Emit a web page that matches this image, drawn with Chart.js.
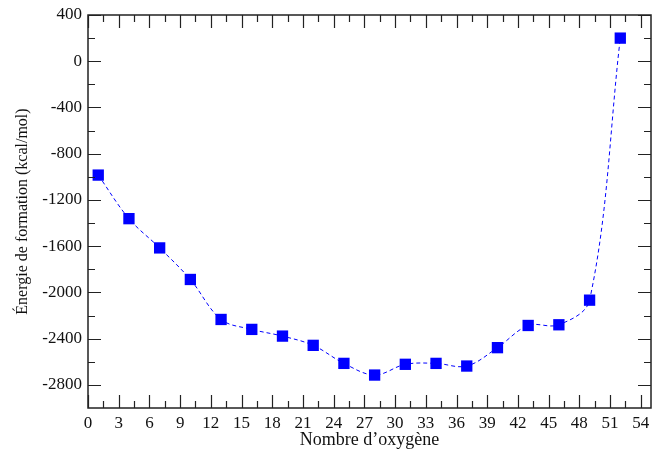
<!DOCTYPE html>
<html>
<head>
<meta charset="utf-8">
<script src="https://cdn.jsdelivr.net/npm/chart.js@4"></script>
<style>
  html, body { margin: 0; padding: 0; background: #fff; }
  #wrap { width: 654px; height: 455px; }
</style>
</head>
<body>
<div id="wrap"><canvas id="energyChart" width="654" height="455"></canvas></div>
<script>
const oxygenCount = [1, 4, 7, 10, 13, 16, 19, 22, 25, 28, 31, 34, 37, 40, 43, 46, 49, 52];
const formationEnergy = [-985, -1362, -1615, -1888, -2234, -2320, -2378, -2458, -2614, -2715, -2622, -2614, -2637, -2478, -2286, -2280, -2067, 200];
const xTickLabels = [0, 3, 6, 9, 12, 15, 18, 21, 24, 27, 30, 33, 36, 39, 42, 45, 48, 51, 54];
const yTickLabels = [-2800, -2400, -2000, -1600, -1200, -800, -400, 0, 400];

const FONT = "'Liberation Serif', 'DejaVu Serif', serif";

// frame + inward ticks on all four sides
const framePlugin = {
    id: 'frame',
    afterDraw(chart) {
        const ctx = chart.ctx;
        const a = chart.chartArea;
        const xs = chart.scales.x, ys = chart.scales.y;
        ctx.save();
        ctx.strokeStyle = '#222';
        ctx.lineWidth = 1.5;
        ctx.strokeRect(a.left, a.top, a.right - a.left, a.bottom - a.top);
        ctx.lineWidth = 1.2;
        ctx.beginPath();
        for (let v = 0; v <= 54; v += 1.5) {
            const len = (v % 3 === 0) ? 13 : 7;
            const px = Math.round(xs.getPixelForValue(v)) + 0.5;
            ctx.moveTo(px, a.bottom); ctx.lineTo(px, a.bottom - len);
            ctx.moveTo(px, a.top); ctx.lineTo(px, a.top + len);
        }
        for (let v = -2800; v <= 400; v += 200) {
            const len = (v % 400 === 0) ? 13 : 7;
            const py = Math.round(ys.getPixelForValue(v)) + 0.5;
            ctx.moveTo(a.left, py); ctx.lineTo(a.left + len, py);
            ctx.moveTo(a.right, py); ctx.lineTo(a.right - len, py);
        }
        ctx.stroke();
        ctx.restore();
    }
};

const ctx = document.getElementById('energyChart').getContext('2d');
new Chart(ctx, {
    type: 'line',
    data: {
        datasets: [{
            data: oxygenCount.map((x, i) => ({ x: x, y: formationEnergy[i] })),
            borderColor: '#0000ff',
            borderWidth: 1,
            borderDash: [4, 3],
            tension: 0.35,
            pointStyle: 'rect',
            pointRadius: 8,
            pointBorderWidth: 0,
            pointBackgroundColor: '#0000ff'
        }]
    },
    options: {
        responsive: false,
        animation: false,
        layout: { autoPadding: false, padding: { top: 15, right: 3, left: 0, bottom: 0 } },
        plugins: { legend: { display: false }, tooltip: { enabled: false } },
        scales: {
            x: {
                type: 'linear',
                min: 0,
                max: 55,
                grid: { display: false, drawTicks: false },
                border: { display: false },
                afterBuildTicks: s => { s.ticks = xTickLabels.map(v => ({ value: v })); },
                afterFit: s => { s.height = 47; s.paddingRight = 0; s.paddingLeft = 0; },
                ticks: { color: '#111', padding: 5, maxRotation: 0, callback: v => String(v), font: { family: FONT, size: 17 } },
                title: { display: true, text: 'Nombre d’oxygène', color: '#111', padding: { top: 0, bottom: 4 }, font: { family: FONT, size: 18 } }
            },
            y: {
                min: -3000,
                max: 400,
                grid: { display: false, drawTicks: false },
                border: { display: false },
                afterBuildTicks: s => { s.ticks = yTickLabels.map(v => ({ value: v })); },
                afterFit: s => { s.width = 88; s.paddingTop = 0; s.paddingBottom = 0; },
                ticks: { color: '#111', padding: 6, callback: v => String(v), font: { family: FONT, size: 17 } },
                title: { display: true, text: 'Énergie de formation (kcal/mol)', color: '#111', padding: { top: 13, bottom: 0 }, font: { family: FONT, size: 16 } }
            }
        }
    },
    plugins: [framePlugin]
});
</script>
</body>
</html>
